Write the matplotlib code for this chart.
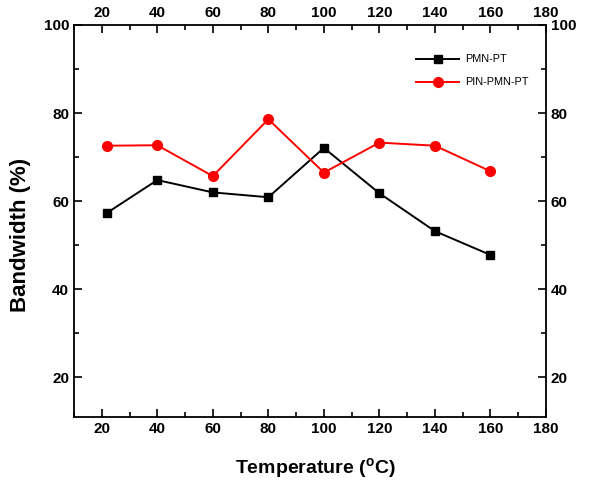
import matplotlib
matplotlib.use("Agg")
import matplotlib.pyplot as plt
from matplotlib.ticker import MultipleLocator

plt.rcParams['font.family'] = ['Liberation Sans', 'DejaVu Sans']
plt.rcParams['mathtext.fontset'] = 'custom'
plt.rcParams['mathtext.rm'] = 'Liberation Sans:bold'
plt.rcParams['mathtext.bf'] = 'Liberation Sans:bold'

temperature = [22, 40, 60, 80, 100, 120, 140, 160]
pmn_pt = [57.4, 64.8, 62.0, 60.9, 72.1, 61.8, 53.2, 47.8]
pin_pmn_pt = [72.6, 72.7, 65.7, 78.6, 66.5, 73.3, 72.6, 66.8]

fig = plt.figure(figsize=(6, 4.8), dpi=100)
ax = fig.add_axes([0.1233, 0.131, 0.7867, 0.817])

ax.plot(temperature, pmn_pt, color='black', marker='s', markersize=6, lw=1.4, label='PMN-PT')
ax.plot(temperature, pin_pmn_pt, color='red', marker='o', markersize=7, lw=1.4, label='PIN-PMN-PT')

ax.set_xlim(10, 180)
ax.set_ylim(11, 100)
ax.xaxis.set_minor_locator(MultipleLocator(10))
ax.yaxis.set_minor_locator(MultipleLocator(10))
ax.set_xticks([20, 40, 60, 80, 100, 120, 140, 160, 180])
ax.set_yticks([20, 40, 60, 80, 100])

ax.tick_params(which='both', direction='in', top=True, right=True,
               labeltop=True, labelright=True, width=1.2, labelsize=11)
ax.tick_params(which='major', length=6)
ax.tick_params(which='minor', length=3.5)
for lab in ax.xaxis.get_ticklabels(which='both') + ax.yaxis.get_ticklabels(which='both'):
    lab.set_fontweight('bold')
for sp in ax.spines.values():
    sp.set_linewidth(1.3)

ax.set_xlabel(r'Temperature ($\mathregular{^o}$C)', fontsize=14, fontweight='bold')
ax.set_ylabel('Bandwidth (%)', fontsize=16, fontweight='bold')
ax.xaxis.set_label_coords(0.511, -0.100)
ax.yaxis.set_label_coords(-0.091, 0.464)

ax.legend(loc='upper right', bbox_to_anchor=(0.983, 0.95), frameon=False,
          fontsize=7.8, handlelength=4, labelspacing=1.2, handletextpad=0.5)

fig.savefig('out.png', dpi=100)
